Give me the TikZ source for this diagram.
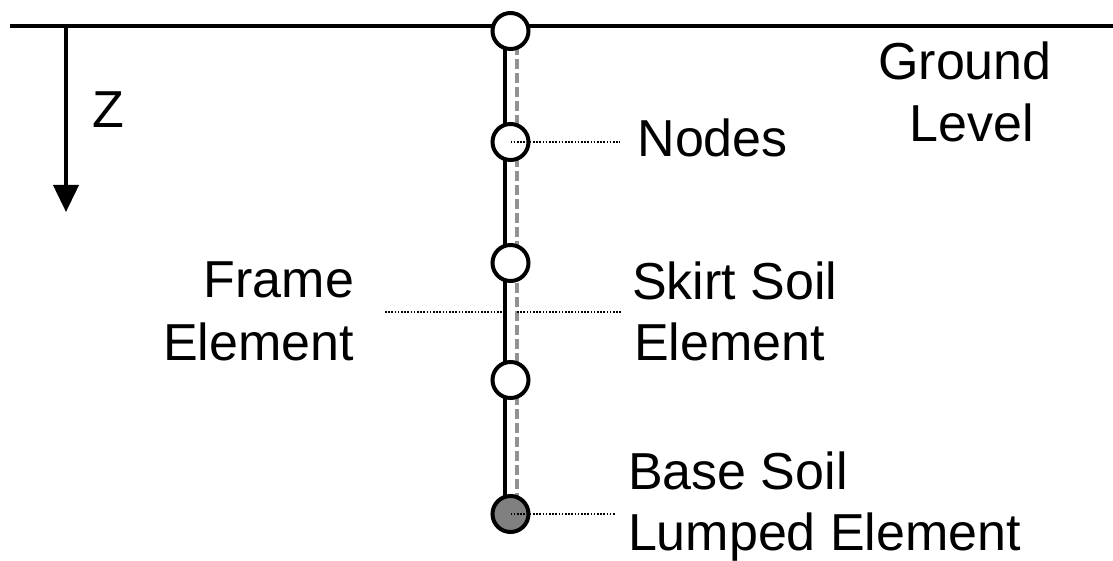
\documentclass[tikz,border=0pt]{standalone}
\usepackage{fontspec}
\setmainfont{Liberation Sans}
\usetikzlibrary{arrows.meta,backgrounds}
\definecolor{soilgray}{HTML}{919191}
\definecolor{basegray}{HTML}{808080}
\begin{document}
\begin{tikzpicture}[x=1pt,y=-1pt,
  every node/.style={inner sep=0pt,outer sep=0pt},
  txt/.style={font=\fontsize{52}{62}\selectfont},
  joint/.style={circle,draw,line width=4pt,minimum size=36pt,fill=white},
  base joint/.style={joint,fill=basegray},
  leader/.style={line width=1.6pt,dash pattern=on 1.6pt off 1.6pt},
  frame line/.style={line width=4pt},
  soil line/.style={line width=4pt,draw=soilgray,dash pattern=on 10pt off 4pt},
  ground/.style={line width=4pt}]
\useasboundingbox (0,0) rectangle (1113,561);

% joints of the column
\node[joint] (n1) at (510.5,31) {};
\node[joint] (n2) at (510.5,142) {};
\node[joint] (n3) at (510.5,263) {};
\node[joint] (n4) at (510.5,380) {};
\node[base joint] (n5) at (510.5,514) {};

% ground surface, frame and skirt soil lines behind the joints
\coordinate (gL) at (10,26);
\coordinate (gR) at (1113,26);
\begin{scope}[on background layer]
  \draw[ground] (gL) -- (gR);
  \draw[frame line] ([xshift=-5.5pt]n1.center) -- ([xshift=-5.5pt]n5.center);
  \draw[soil line] ([xshift=6pt]n1.center) -- ([xshift=6pt]n5.center);
\end{scope}

% depth axis
\coordinate (zTop) at (66,26);
\coordinate (zTip) at (66,212);
\draw[line width=4pt,-{Triangle[length=27pt,width=25pt]}] (zTop) -- (zTip);
\node[txt,anchor=base] (zLab) at (108,128) {Z};

% leader lines
\coordinate (nodesEnd) at (620,142);
\draw[leader] (n2.center) -- (nodesEnd);
\coordinate (frameL) at (385,312);
\coordinate (frameR) at (505,312);
\draw[leader] (frameL) -- (frameR);
\coordinate (skirtL) at (517,312);
\coordinate (skirtR) at (622,312);
\draw[leader] (skirtL) -- (skirtR);
\coordinate (baseEnd) at (615,514);
\draw[leader] (n5.center) -- (baseEnd);

% labels
\node[txt,anchor=base] (gl1) at (965,80) {Ground};
\node[txt,anchor=base] (gl2) at (972,142) {Level};
\node[txt,anchor=base west] (tNodes) at (637.5,157) {Nodes};
\node[txt,anchor=base east] (fe1) at (354,298) {Frame};
\node[txt,anchor=base east] (fe2) at (354,360) {Element};
\node[txt,anchor=base west] (ss1) at (632,299) {Skirt Soil};
\node[txt,anchor=base west] (ss2) at (634,360) {Element};
\node[txt,anchor=base west] (bs1) at (628,489) {Base Soil};
\node[txt,anchor=base west] (bs2) at (628,550) {Lumped Element};
\end{tikzpicture}
\end{document}
